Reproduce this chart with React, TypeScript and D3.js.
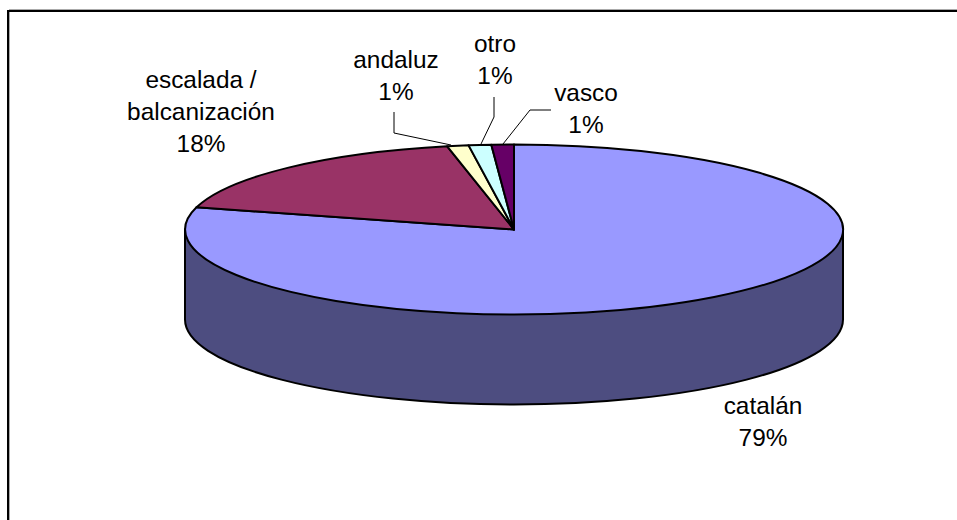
import * as React from "react";
import * as d3 from "d3";

const categories = ["catalán", "escalada / balcanización", "andaluz", "otro", "vasco"];
const shares = [79.2, 17.55, 1.05, 1.1, 1.1];
const topColors = ["#9999FF", "#993366", "#FFFFCC", "#CCFFFF", "#660066"];
const sideColor = "#4D4D80";

const cx = 514;
const cy = 229.5;
const rx = 329;
const ry = 85;
const depth = 90;

// label blocks, one line per tspan
const labelSpots = [
  { lines: ["catalán"], x: 763, y: 414 },
  { lines: ["escalada /", "balcanización"], x: 201, y: 88 },
  { lines: ["andaluz"], x: 396, y: 68 },
  { lines: ["otro"], x: 495, y: 52 },
  { lines: ["vasco"], x: 586, y: 101 },
];

const leaders = [
  null,
  null,
  [[394, 112], [394, 133], [451, 145]],
  [[494, 97], [494, 117], [481, 144]],
  [[551, 110], [530, 110], [503, 144]],
];

export default function App() {
  // slices go clockwise from 12 o'clock, drawn on a unit circle and squashed to the ellipse
  const slices = d3.pie<number>().sort(null)(shares);
  const arc = d3.arc<d3.PieArcDatum<number>>().innerRadius(0).outerRadius(1);
  const line = d3.line();

  const side = `M${cx - rx},${cy}L${cx - rx},${cy + depth}A${rx},${ry} 0 0 0 ${cx + rx},${cy + depth}L${cx + rx},${cy}Z`;

  return (
    <svg
      width={957}
      height={520}
      style={{ position: "absolute", left: 0, top: 0, fontFamily: "'Liberation Sans', Arial, sans-serif" }}
    >
      <rect x={0} y={0} width={957} height={520} fill="#fff" />
      {/* only the top and left edges of the frame are in the picture */}
      <line x1={9} y1={9.5} x2={957} y2={9.5} stroke="#aaa" strokeWidth={1} />
      <line x1={9.5} y1={12} x2={9.5} y2={520} stroke="#aaa" strokeWidth={1} />
      <line x1={7} y1={11} x2={957} y2={11} stroke="#000" strokeWidth={2} />
      <line x1={8} y1={10} x2={8} y2={520} stroke="#000" strokeWidth={2} />

      <path d={side} fill={sideColor} stroke="#000" strokeWidth={2} />

      <g transform={`translate(${cx},${cy}) scale(${rx},${ry})`}>
        {slices.map((s, i) => (
          <path
            key={i}
            d={arc(s) as string}
            fill={topColors[i]}
            stroke="#000"
            strokeWidth={2}
            vectorEffect="non-scaling-stroke"
            strokeLinejoin="round"
          />
        ))}
      </g>

      {leaders.map((pts, i) =>
        pts ? <path key={i} d={line(pts as [number, number][]) as string} fill="none" stroke="#000" strokeWidth={1} /> : null
      )}

      {categories.map((c, i) => {
        const spot = labelSpots[i];
        const lines = [...spot.lines, `${d3.format(".0f")(shares[i])}%`];
        return (
          <text key={c} x={spot.x} y={spot.y} textAnchor="middle" fontSize={24.4} fill="#000">
            {lines.map((l, j) => (
              <tspan key={j} x={spot.x} dy={j === 0 ? 0 : 32}>
                {l}
              </tspan>
            ))}
          </text>
        );
      })}
    </svg>
  );
}
